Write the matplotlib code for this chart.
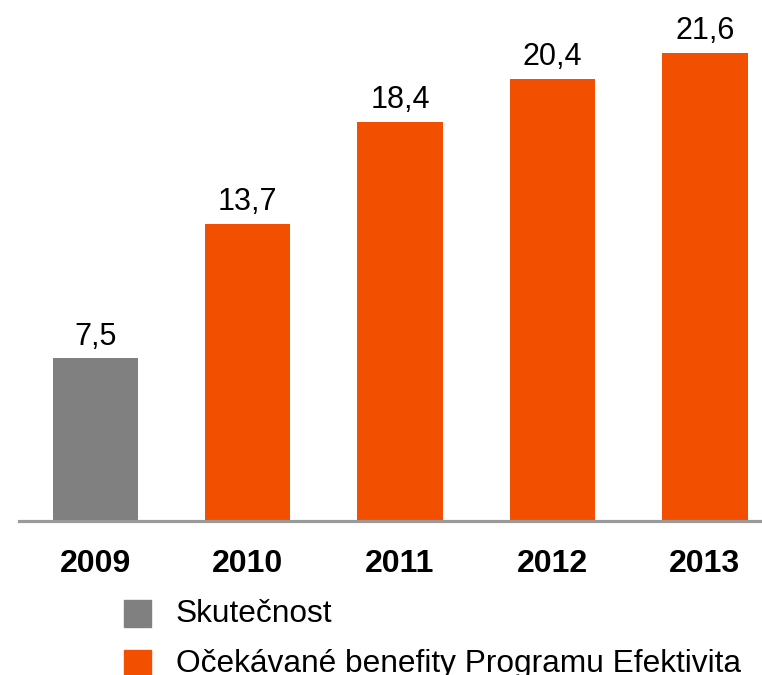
import matplotlib
matplotlib.use('Agg')
import matplotlib.pyplot as plt
from matplotlib.patches import Rectangle

years = ['2009', '2010', '2011', '2012', '2013']
values = [7.5, 13.7, 18.4, 20.4, 21.6]
is_actual = [True, False, False, False, False]
legend_labels = ['Skutečnost', 'Očekávané benefity Programu Efektivita']

GRAY = '#808080'
ORANGE = '#F25000'

plt.rcParams['font.family'] = ['Liberation Sans', 'DejaVu Sans']

fig = plt.figure(figsize=(7.62, 6.75), dpi=100)
ax = fig.add_axes([19 / 762, (675 - 521) / 675, 1 - 19 / 762, 521 / 675])

x = list(range(len(years)))
colors = [GRAY if a else ORANGE for a in is_actual]
bars = ax.bar(x, values, width=0.56, color=colors, zorder=2)

for xi, v in zip(x, values):
    ax.annotate(f'{v:.1f}'.replace('.', ','), (xi, v), xytext=(0, 5),
                textcoords='offset points', ha='center', va='bottom',
                fontsize=22)

ax.set_xlim(-0.5, 4.375)
ax.set_ylim(0, 24.04)
ax.set_xticks(x)
ax.set_xticklabels(years, fontsize=23, fontweight='bold')
ax.tick_params(axis='x', length=0, pad=20)
ax.set_yticks([])
for s in ['left', 'right', 'top']:
    ax.spines[s].set_visible(False)
ax.spines['bottom'].set_color('#9a9a9a')
ax.spines['bottom'].set_linewidth(2.3)
ax.spines['bottom'].set_zorder(3)

# legend drawn by hand in figure pixels
W, H = 762, 675
for (label, col, ytop) in [(legend_labels[0], GRAY, 600), (legend_labels[1], ORANGE, 650)]:
    fig.patches.append(Rectangle((124 / W, 1 - (ytop + 27) / H), 27 / W, 27 / H,
                                 transform=fig.transFigure, color=col))
    fig.text(176 / W, 1 - (ytop + 14) / H, label, fontsize=22.8,
             va='center', ha='left')

fig.savefig('out.png', dpi=100)
